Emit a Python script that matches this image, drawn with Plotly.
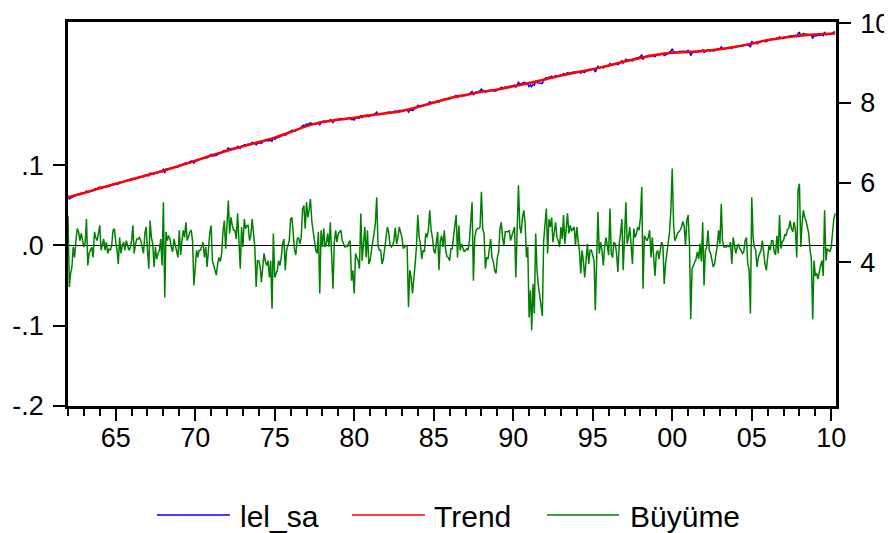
import pandas as pd
import plotly.graph_objects as go

# ---------------- data (monthly, 1962M01 - 2010M04) ----------------
start_month = "1962-01-01"
n_months = 580

buyume = [
    .037, -.052, -.035, -.027, -.002, -.015, .005, .021, .017, .006, .015, .008,
    -.002, .004, .033, -.025, -.010, -.006, -.002, -.015, .017, .010, .006, .015,
    .025, -.006, .002, .008, -.006, .004, -.010, -.004, -.006, .000, .019, .021,
    .005, -.006, -.023, .010, -.010, .000, .004, -.006, .006, -.002, -.006, -.003,
    .006, .025, -.010, .002, .008, .008, .010, .006, -.002, -.010, .015, .023,
    -.006, -.029, .031, .010, .002, -.027, -.002, -.017, -.010, -.006, .008, -.025,
    .054, -.065, .017, .006, .012, .008, -.002, -.008, .008, .000, -.008, -.015,
    .019, -.012, .005, .019, .010, .029, .006, .012, .017, .019, .006, -.050,
    -.020, -.006, -.015, -.006, -.006, .000, .004, -.015, -.002, -.027, -.005, .015,
    .025, -.019, -.025, -.030, -.037, -.023, -.015, -.020, -.010, .017, .031, -.004,
    .020, .056, .015, .035, .025, .019, .019, .008, .040, .010, -.029, .023,
    -.002, .033, .021, .025, .025, .006, .012, .033, .010, -.002, -.052, -.019,
    -.019, -.027, -.046, -.031, -.010, -.020, -.025, -.019, -.040, -.019, -.079, .015,
    -.040, -.035, -.031, -.019, -.025, -.015, .002, .008, -.031, -.006, .002, .006,
    .033, .035, .015, -.006, -.012, .008, .010, .002, .010, .045, .050, .021,
    .054, .035, .044, .058, .031, .017, .008, -.006, -.010, .017, -.060, .019,
    -.002, .021, -.002, .002, .015, -.002, .029, -.010, -.054, .004, .019, .004,
    .015, .017, .019, .006, .002, -.002, .000, -.002, .004, .006, -.044, -.031,
    -.060, -.010, -.015, -.019, -.029, .040, -.019, .010, .023, -.015, .019, -.023,
    -.019, -.006, .002, .015, .027, .060, .000, -.006, -.006, -.023, -.017, -.006,
    .006, .023, .017, .002, -.002, .000, .006, .022, .002, .010, .023, .015,
    .010, -.004, -.002, .000, -.002, -.077, -.031, -.040, -.060, -.035, -.023, -.002,
    .038, .010, .002, -.017, -.006, -.008, .015, .010, .020, .044, .019, .010,
    -.006, -.010, .006, .017, -.031, .006, .012, -.002, .019, -.006, -.014, -.015,
    -.019, -.004, -.004, .015, .025, .038, -.015, .025, -.006, .002, -.002, -.008,
    -.006, -.004, -.006, .006, .030, .054, -.044, .010, .019, .021, .021, .023,
    .067, .020, .015, -.029, -.015, -.017, -.005, .008, -.015, -.021, -.031, -.035,
    -.015, -.008, .020, .029, .010, .000, .017, .017, .017, .019, .006, .012,
    .019, .023, -.040, .015, .075, .023, .015, .035, .044, .027, -.015, -.002,
    -.090, -.056, -.106, -.048, -.085, .015, -.031, -.050, -.065, -.073, -.088, .006,
    .027, .046, -.010, .033, .023, .035, .004, .021, .029, .010, .006, -.002,
    .023, .008, .038, .002, .019, .040, .015, .025, .018, .021, .023, .000,
    .023, .005, -.006, -.035, -.006, -.020, -.040, -.019, .002, -.023, -.006, -.006,
    -.012, -.019, -.081, .002, .042, -.010, .004, -.006, -.025, -.002, .010, .000,
    -.012, .046, -.010, -.015, .004, .002, -.010, -.033, .002, .015, .033, -.031,
    .006, .054, .002, .010, .023, -.004, -.023, .021, .010, .015, .023, .019,
    .035, .073, -.054, .012, .008, .006, .010, .019, -.015, .010, -.015, -.038,
    -.010, -.006, -.017, -.006, .004, .000, -.048, -.023, -.010, -.002, .017, .044,
    .096, .027, .006, .010, .015, .017, .019, .023, .030, .025, .000, .031,
    .038, .000, -.092, -.029, -.025, -.022, -.017, -.008, -.017, .002, -.020, .029,
    -.050, -.006, -.002, .019, -.006, -.010, -.019, -.027, -.023, -.012, .000, .019,
    .002, .052, .006, -.002, -.002, -.002, .000, -.002, .004, -.023, .010, .002,
    -.010, -.002, .002, -.004, -.006, -.010, -.008, .006, .010, -.023, -.030, -.085,
    .060, .010, -.002, -.006, -.027, -.015, -.010, -.006, .006, -.010, -.023, -.031,
    -.015, .000, -.006, .006, .006, -.008, -.012, .012, -.010, .038, -.004, .005,
    .006, .014, .012, .020, .021, .031, .021, .017, .029, .019, -.015, .069,
    .077, -.002, .027, .044, .035, .031, .023, .015, -.006, -.017, -.092, -.019,
    -.038, -.035, -.042, -.031, -.025, -.019, -.038, .044, -.019, -.004, -.006, -.008,
    -.002, .019, .033, .040,
]

lel_sa = [
    5.67, 5.59, 5.61, 5.63, 5.66, 5.66, 5.69, 5.72, 5.72, 5.72, 5.74, 5.74,
    5.74, 5.75, 5.79, 5.75, 5.77, 5.78, 5.80, 5.80, 5.84, 5.84, 5.85, 5.87,
    5.89, 5.86, 5.88, 5.90, 5.89, 5.91, 5.90, 5.92, 5.93, 5.94, 5.97, 5.98,
    5.97, 5.97, 5.96, 6.01, 6.00, 6.02, 6.03, 6.03, 6.05, 6.05, 6.06, 6.07,
    6.09, 6.11, 6.09, 6.11, 6.12, 6.13, 6.14, 6.15, 6.15, 6.15, 6.19, 6.20,
    6.18, 6.17, 6.24, 6.23, 6.23, 6.21, 6.24, 6.24, 6.25, 6.27, 6.29, 6.27,
    6.35, 6.24, 6.34, 6.34, 6.35, 6.36, 6.36, 6.36, 6.39, 6.39, 6.39, 6.39,
    6.44, 6.42, 6.45, 6.47, 6.47, 6.50, 6.49, 6.51, 6.52, 6.54, 6.53, 6.49,
    6.53, 6.55, 6.56, 6.58, 6.59, 6.60, 6.62, 6.61, 6.63, 6.62, 6.65, 6.68,
    6.71, 6.67, 6.67, 6.68, 6.68, 6.71, 6.72, 6.73, 6.75, 6.79, 6.81, 6.79,
    6.82, 6.87, 6.83, 6.86, 6.86, 6.86, 6.87, 6.87, 6.91, 6.89, 6.86, 6.92,
    6.91, 6.95, 6.95, 6.96, 6.97, 6.96, 6.98, 7.01, 6.99, 6.99, 6.95, 6.99,
    7.00, 7.00, 6.99, 7.02, 7.05, 7.05, 7.05, 7.06, 7.05, 7.08, 7.03, 7.14,
    7.09, 7.11, 7.12, 7.15, 7.15, 7.17, 7.20, 7.22, 7.19, 7.23, 7.25, 7.26,
    7.30, 7.32, 7.31, 7.30, 7.31, 7.34, 7.35, 7.36, 7.38, 7.43, 7.44, 7.43,
    7.47, 7.46, 7.48, 7.50, 7.48, 7.48, 7.48, 7.47, 7.48, 7.51, 7.44, 7.53,
    7.52, 7.55, 7.53, 7.54, 7.55, 7.54, 7.58, 7.54, 7.51, 7.57, 7.59, 7.58,
    7.59, 7.60, 7.61, 7.60, 7.60, 7.60, 7.61, 7.61, 7.62, 7.62, 7.58, 7.59,
    7.57, 7.62, 7.62, 7.63, 7.62, 7.69, 7.64, 7.67, 7.69, 7.66, 7.70, 7.66,
    7.67, 7.69, 7.70, 7.72, 7.73, 7.77, 7.71, 7.71, 7.72, 7.71, 7.72, 7.73,
    7.75, 7.77, 7.77, 7.76, 7.76, 7.77, 7.78, 7.80, 7.78, 7.80, 7.81, 7.81,
    7.81, 7.80, 7.81, 7.83, 7.83, 7.77, 7.82, 7.82, 7.81, 7.84, 7.86, 7.89,
    7.94, 7.92, 7.92, 7.91, 7.93, 7.94, 7.97, 7.97, 7.99, 8.03, 8.01, 8.01,
    8.00, 8.01, 8.03, 8.06, 8.02, 8.06, 8.08, 8.07, 8.10, 8.09, 8.09, 8.10,
    8.10, 8.12, 8.13, 8.15, 8.17, 8.19, 8.14, 8.19, 8.17, 8.18, 8.18, 8.19,
    8.19, 8.20, 8.21, 8.23, 8.26, 8.29, 8.20, 8.26, 8.27, 8.28, 8.29, 8.30,
    8.35, 8.30, 8.31, 8.27, 8.28, 8.29, 8.30, 8.32, 8.31, 8.30, 8.30, 8.30,
    8.32, 8.34, 8.37, 8.39, 8.38, 8.37, 8.40, 8.40, 8.41, 8.42, 8.41, 8.43,
    8.44, 8.45, 8.39, 8.46, 8.52, 8.48, 8.48, 8.50, 8.52, 8.51, 8.47, 8.49,
    8.41, 8.45, 8.41, 8.47, 8.45, 8.55, 8.51, 8.50, 8.50, 8.49, 8.49, 8.59,
    8.62, 8.64, 8.60, 8.65, 8.65, 8.67, 8.64, 8.67, 8.69, 8.68, 8.68, 8.68,
    8.71, 8.71, 8.74, 8.71, 8.74, 8.76, 8.74, 8.76, 8.76, 8.77, 8.78, 8.76,
    8.79, 8.78, 8.78, 8.75, 8.79, 8.78, 8.77, 8.80, 8.82, 8.81, 8.83, 8.84,
    8.84, 8.84, 8.78, 8.87, 8.92, 8.88, 8.90, 8.90, 8.88, 8.92, 8.93, 8.93,
    8.93, 8.99, 8.95, 8.95, 8.98, 8.98, 8.98, 8.96, 9.01, 9.03, 9.06, 9.00,
    9.05, 9.10, 9.06, 9.07, 9.09, 9.07, 9.06, 9.11, 9.11, 9.12, 9.14, 9.14,
    9.17, 9.21, 9.09, 9.16, 9.16, 9.17, 9.18, 9.20, 9.17, 9.20, 9.18, 9.16,
    9.20, 9.21, 9.20, 9.22, 9.23, 9.23, 9.19, 9.22, 9.23, 9.25, 9.27, 9.30,
    9.36, 9.29, 9.27, 9.27, 9.28, 9.29, 9.29, 9.29, 9.30, 9.30, 9.28, 9.31,
    9.32, 9.28, 9.19, 9.26, 9.27, 9.27, 9.28, 9.29, 9.28, 9.30, 9.29, 9.34,
    9.26, 9.31, 9.31, 9.34, 9.32, 9.32, 9.31, 9.31, 9.31, 9.33, 9.34, 9.37,
    9.35, 9.41, 9.37, 9.36, 9.37, 9.37, 9.38, 9.38, 9.39, 9.37, 9.41, 9.41,
    9.40, 9.42, 9.42, 9.43, 9.43, 9.43, 9.44, 9.46, 9.47, 9.45, 9.45, 9.40,
    9.55, 9.51, 9.50, 9.51, 9.49, 9.51, 9.53, 9.54, 9.56, 9.55, 9.54, 9.54,
    9.57, 9.58, 9.58, 9.60, 9.61, 9.60, 9.60, 9.63, 9.61, 9.66, 9.63, 9.64,
    9.65, 9.66, 9.66, 9.67, 9.68, 9.69, 9.69, 9.69, 9.70, 9.70, 9.67, 9.75,
    9.77, 9.69, 9.72, 9.74, 9.73, 9.73, 9.73, 9.72, 9.70, 9.70, 9.62, 9.70,
    9.68, 9.69, 9.68, 9.69, 9.70, 9.71, 9.69, 9.78, 9.71, 9.73, 9.73, 9.73,
    9.74, 9.76, 9.78, 9.78,
]

trend_dates = [
    "1962-01-01", "1963-01-01", "1964-01-01", "1965-01-01", "1966-01-01",
    "1967-01-01", "1968-01-01", "1969-01-01", "1970-01-01", "1971-01-01",
    "1972-01-01", "1973-01-01", "1974-01-01", "1975-01-01", "1976-01-01",
    "1977-01-01", "1978-01-01", "1979-01-01", "1980-01-01", "1981-01-01",
    "1982-01-01", "1983-01-01", "1984-01-01", "1985-01-01", "1986-01-01",
    "1987-01-01", "1988-01-01", "1989-01-01", "1990-01-01", "1991-01-01",
    "1992-01-01", "1993-01-01", "1994-01-01", "1995-01-01", "1996-01-01",
    "1997-01-01", "1998-01-01", "1999-01-01", "2000-01-01", "2001-01-01",
    "2002-01-01", "2003-01-01", "2004-01-01", "2005-01-01", "2006-01-01",
    "2007-01-01", "2008-01-01", "2009-01-01", "2010-01-01", "2010-04-01",
]
trend = [
    5.63, 5.74, 5.86, 5.97, 6.08, 6.19, 6.30, 6.42, 6.55, 6.68,
    6.80, 6.91, 7.02, 7.13, 7.27, 7.42, 7.52, 7.58, 7.63, 7.69,
    7.74, 7.80, 7.90, 8.01, 8.12, 8.20, 8.28, 8.34, 8.42, 8.50,
    8.59, 8.69, 8.77, 8.85, 8.94, 9.04, 9.13, 9.21, 9.26, 9.28,
    9.31, 9.35, 9.41, 9.49, 9.58, 9.64, 9.69, 9.72, 9.74, 9.745,
]

series_names = ["lel_sa", "Trend", "Büyüme"]
series_colors = ["#0000FF", "#FF0000", "#008000"]

left_tickvals = [-0.2, -0.1, 0.0, 0.1]
left_ticktext = ["-.2", "-.1", ".0", ".1"]
right_tickvals = [4, 6, 8, 10]
right_ticktext = ["4", "6", "8", "10"]

# ---------------- figure ----------------
months = pd.date_range(start_month, periods=n_months, freq="MS")
FONT = "Liberation Sans, Arial, sans-serif"

fig = go.Figure()
fig.add_trace(go.Scatter(x=months, y=buyume, mode="lines", name=series_names[2],
                         line=dict(color=series_colors[2], width=1.5), yaxis="y"))
fig.add_trace(go.Scatter(x=months, y=lel_sa, mode="lines", name=series_names[0],
                         line=dict(color=series_colors[0], width=1.5), yaxis="y2"))
fig.add_trace(go.Scatter(x=pd.to_datetime(trend_dates), y=trend, mode="lines",
                         name=series_names[1],
                         line=dict(color=series_colors[1], width=2.5, shape="spline",
                                   smoothing=0.6), yaxis="y2"))

# the page body has an 8px default margin, so the figure is sized to fit beside it
fig.update_layout(
    width=884, height=525,
    margin=dict(l=60, r=56, t=14, b=127, autoexpand=False),
    paper_bgcolor="white", plot_bgcolor="white",
    showlegend=False,
    font=dict(family=FONT, size=27, color="black"),
    xaxis=dict(
        type="date", automargin=False,
        range=["1962-01-01", "2010-04-20"],
        tick0="1965-01-01", dtick="M60", tickformat="%y",
        ticks="outside", ticklen=12, tickwidth=1.5, tickcolor="black",
        minor=dict(dtick="M12", ticks="outside", ticklen=7, tickwidth=1.5,
                   tickcolor="black", showgrid=False),
        showgrid=False, showline=True, linecolor="black", linewidth=2.5, mirror=True,
        tickfont=dict(size=27, family=FONT, color="black"),
        ticklabelstandoff=-6,
        zeroline=False,
    ),
    yaxis=dict(
        automargin=False,
        range=[-0.2005, 0.279],
        tickvals=left_tickvals, ticktext=left_ticktext,
        ticks="outside", ticklen=12, tickwidth=1.5, tickcolor="black",
        showgrid=False, showline=True, linecolor="black", linewidth=2.5, mirror=True,
        zeroline=True, zerolinecolor="black", zerolinewidth=1.2,
        tickfont=dict(size=27, family=FONT, color="black"),
        ticklabelstandoff=4,
    ),
    yaxis2=dict(
        overlaying="y", side="right", automargin=False,
        range=[0.392, 10.033],
        tickvals=right_tickvals, ticktext=right_ticktext,
        ticks="outside", ticklen=12, tickwidth=1.5, tickcolor="black",
        showgrid=False, showline=True, linecolor="black", linewidth=2.5,
        zeroline=False,
        tickfont=dict(size=27, family=FONT, color="black"),
        ticklabelstandoff=4,
    ),
)

# ---------------- legend (drawn below the plot, EViews style) ----------------
legend_line_x = [(0.1159, 0.2109), (0.3698, 0.4648), (0.6237, 0.7174)]
legend_text_x = [0.2215, 0.4740, 0.7292]
legend_line_y = -0.284
legend_text_y = -0.2865
for (x0, x1), tx, name, col in zip(legend_line_x, legend_text_x, series_names, series_colors):
    fig.add_shape(type="line", xref="paper", yref="paper", x0=x0, x1=x1,
                  y0=legend_line_y, y1=legend_line_y, line=dict(color=col, width=1.5))
    fig.add_annotation(xref="paper", yref="paper", x=tx, y=legend_text_y,
                       text=name, showarrow=False, xanchor="left", yanchor="middle",
                       font=dict(size=30, family=FONT, color="black"))

fig.write_html("out.html")
